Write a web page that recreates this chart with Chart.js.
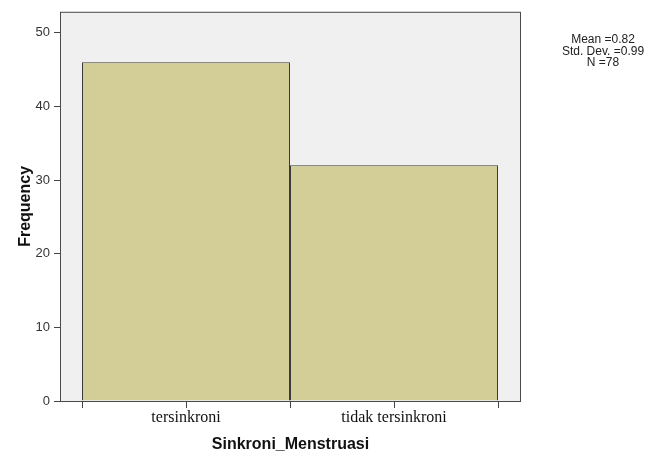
<!DOCTYPE html>
<html>
<head>
<meta charset="utf-8">
<script src="https://cdn.jsdelivr.net/npm/chart.js@4/dist/chart.umd.min.js"></script>
<style>
  html, body { margin: 0; padding: 0; background: #fff; }
  #wrap { width: 650px; height: 460px; }
</style>
</head>
<body>
<div id="wrap"><canvas id="hist"></canvas></div>
<script>
// Histogram data (SPSS style)
const categories = ['tersinkroni', 'tidak tersinkroni'];
const frequencies = [46, 32];
const yTicks = [0, 10, 20, 30, 40, 50];
const statsLines = ['Mean =0.82', 'Std. Dev. =0.99', 'N =78'];

// bin edges and centres along a linear axis, one unit per bin
const binTicks = [];
for (let i = 0; i <= categories.length * 2; i++) binTicks.push(i / 2);

const frameBg = {
    id: 'frameBg',
    beforeDatasetsDraw(chart) {
        const { ctx, chartArea: a } = chart;
        ctx.save();
        ctx.fillStyle = '#f0f0f0';
        ctx.fillRect(a.left, a.top, a.right - a.left, a.bottom - a.top);
        ctx.restore();
    },
    afterDatasetsDraw(chart) {
        const { ctx, chartArea: a } = chart;
        ctx.save();
        ctx.strokeStyle = '#4a4a4a';
        ctx.lineWidth = 1;
        ctx.strokeRect(a.left + 0.5, a.top + 0.5, a.right - a.left - 1, a.bottom - a.top);
        ctx.restore();
    },
    afterDraw(chart) {
        const { ctx } = chart;
        ctx.save();
        ctx.font = '12px "Liberation Sans", Arial, sans-serif';
        ctx.fillStyle = '#222';
        ctx.textAlign = 'center';
        ctx.textBaseline = 'middle';
        statsLines.forEach((t, i) => ctx.fillText(t, 603, 40 + i * 11.5));
        ctx.restore();
    }
};

new Chart(document.getElementById('hist'), {
    type: 'bar',
    data: {
        datasets: [{
            data: frequencies.map((v, i) => ({ x: i + 0.5, y: v })),
            backgroundColor: '#d3ce98',
            borderColor: '#3a3a3a',
            borderWidth: 1,
            // ruler uses the half-bin tick spacing, so double it to fill the bin
            barPercentage: 2,
            categoryPercentage: 1
        }]
    },
    options: {
        responsive: true,
        maintainAspectRatio: false,
        animation: false,
        layout: { padding: { left: 0, right: 129, top: 8, bottom: 0 } },
        plugins: { legend: { display: false }, tooltip: { enabled: false } },
        scales: {
            x: {
                type: 'linear',
                offset: false,
                min: -22 / 208,
                max: -22 / 208 + 461 / 208,
                afterBuildTicks: (s) => { s.ticks = binTicks.map(v => ({ value: v })); },
                afterFit: (s) => { s.height = 59; },
                border: { display: false },
                grid: { offset: false, drawOnChartArea: false, drawTicks: true, tickLength: 7, color: '#444' },
                ticks: {
                    autoSkip: false,
                    maxRotation: 0,
                    padding: 0,
                    color: '#111',
                    font: { family: '"Liberation Serif", "DejaVu Serif", serif', size: 16 },
                    callback: (v) => {
                        const i = v - 0.5;
                        return Number.isInteger(i) ? categories[i] : '';
                    }
                },
                title: {
                    display: true,
                    text: 'Sinkroni_Menstruasi',
                    color: '#111',
                    font: { family: '"Liberation Sans", Arial, sans-serif', size: 16, weight: 'bold' },
                    padding: { top: 0, bottom: 6 }
                }
            },
            y: {
                min: 0,
                max: 391 / 7.4,
                afterBuildTicks: (s) => { s.ticks = yTicks.map(v => ({ value: v })); },
                afterFit: (s) => { s.width = 60; },
                border: { display: false },
                grid: { drawOnChartArea: false, drawTicks: true, tickLength: 6, color: '#444' },
                ticks: {
                    padding: 4,
                    color: '#333',
                    font: { family: '"Liberation Sans", Arial, sans-serif', size: 13 }
                },
                title: {
                    display: true,
                    text: 'Frequency',
                    color: '#111',
                    font: { family: '"Liberation Sans", Arial, sans-serif', size: 16, weight: 'bold' },
                    padding: { top: 16, bottom: 0 }
                }
            }
        }
    },
    plugins: [frameBg]
});
</script>
</body>
</html>
